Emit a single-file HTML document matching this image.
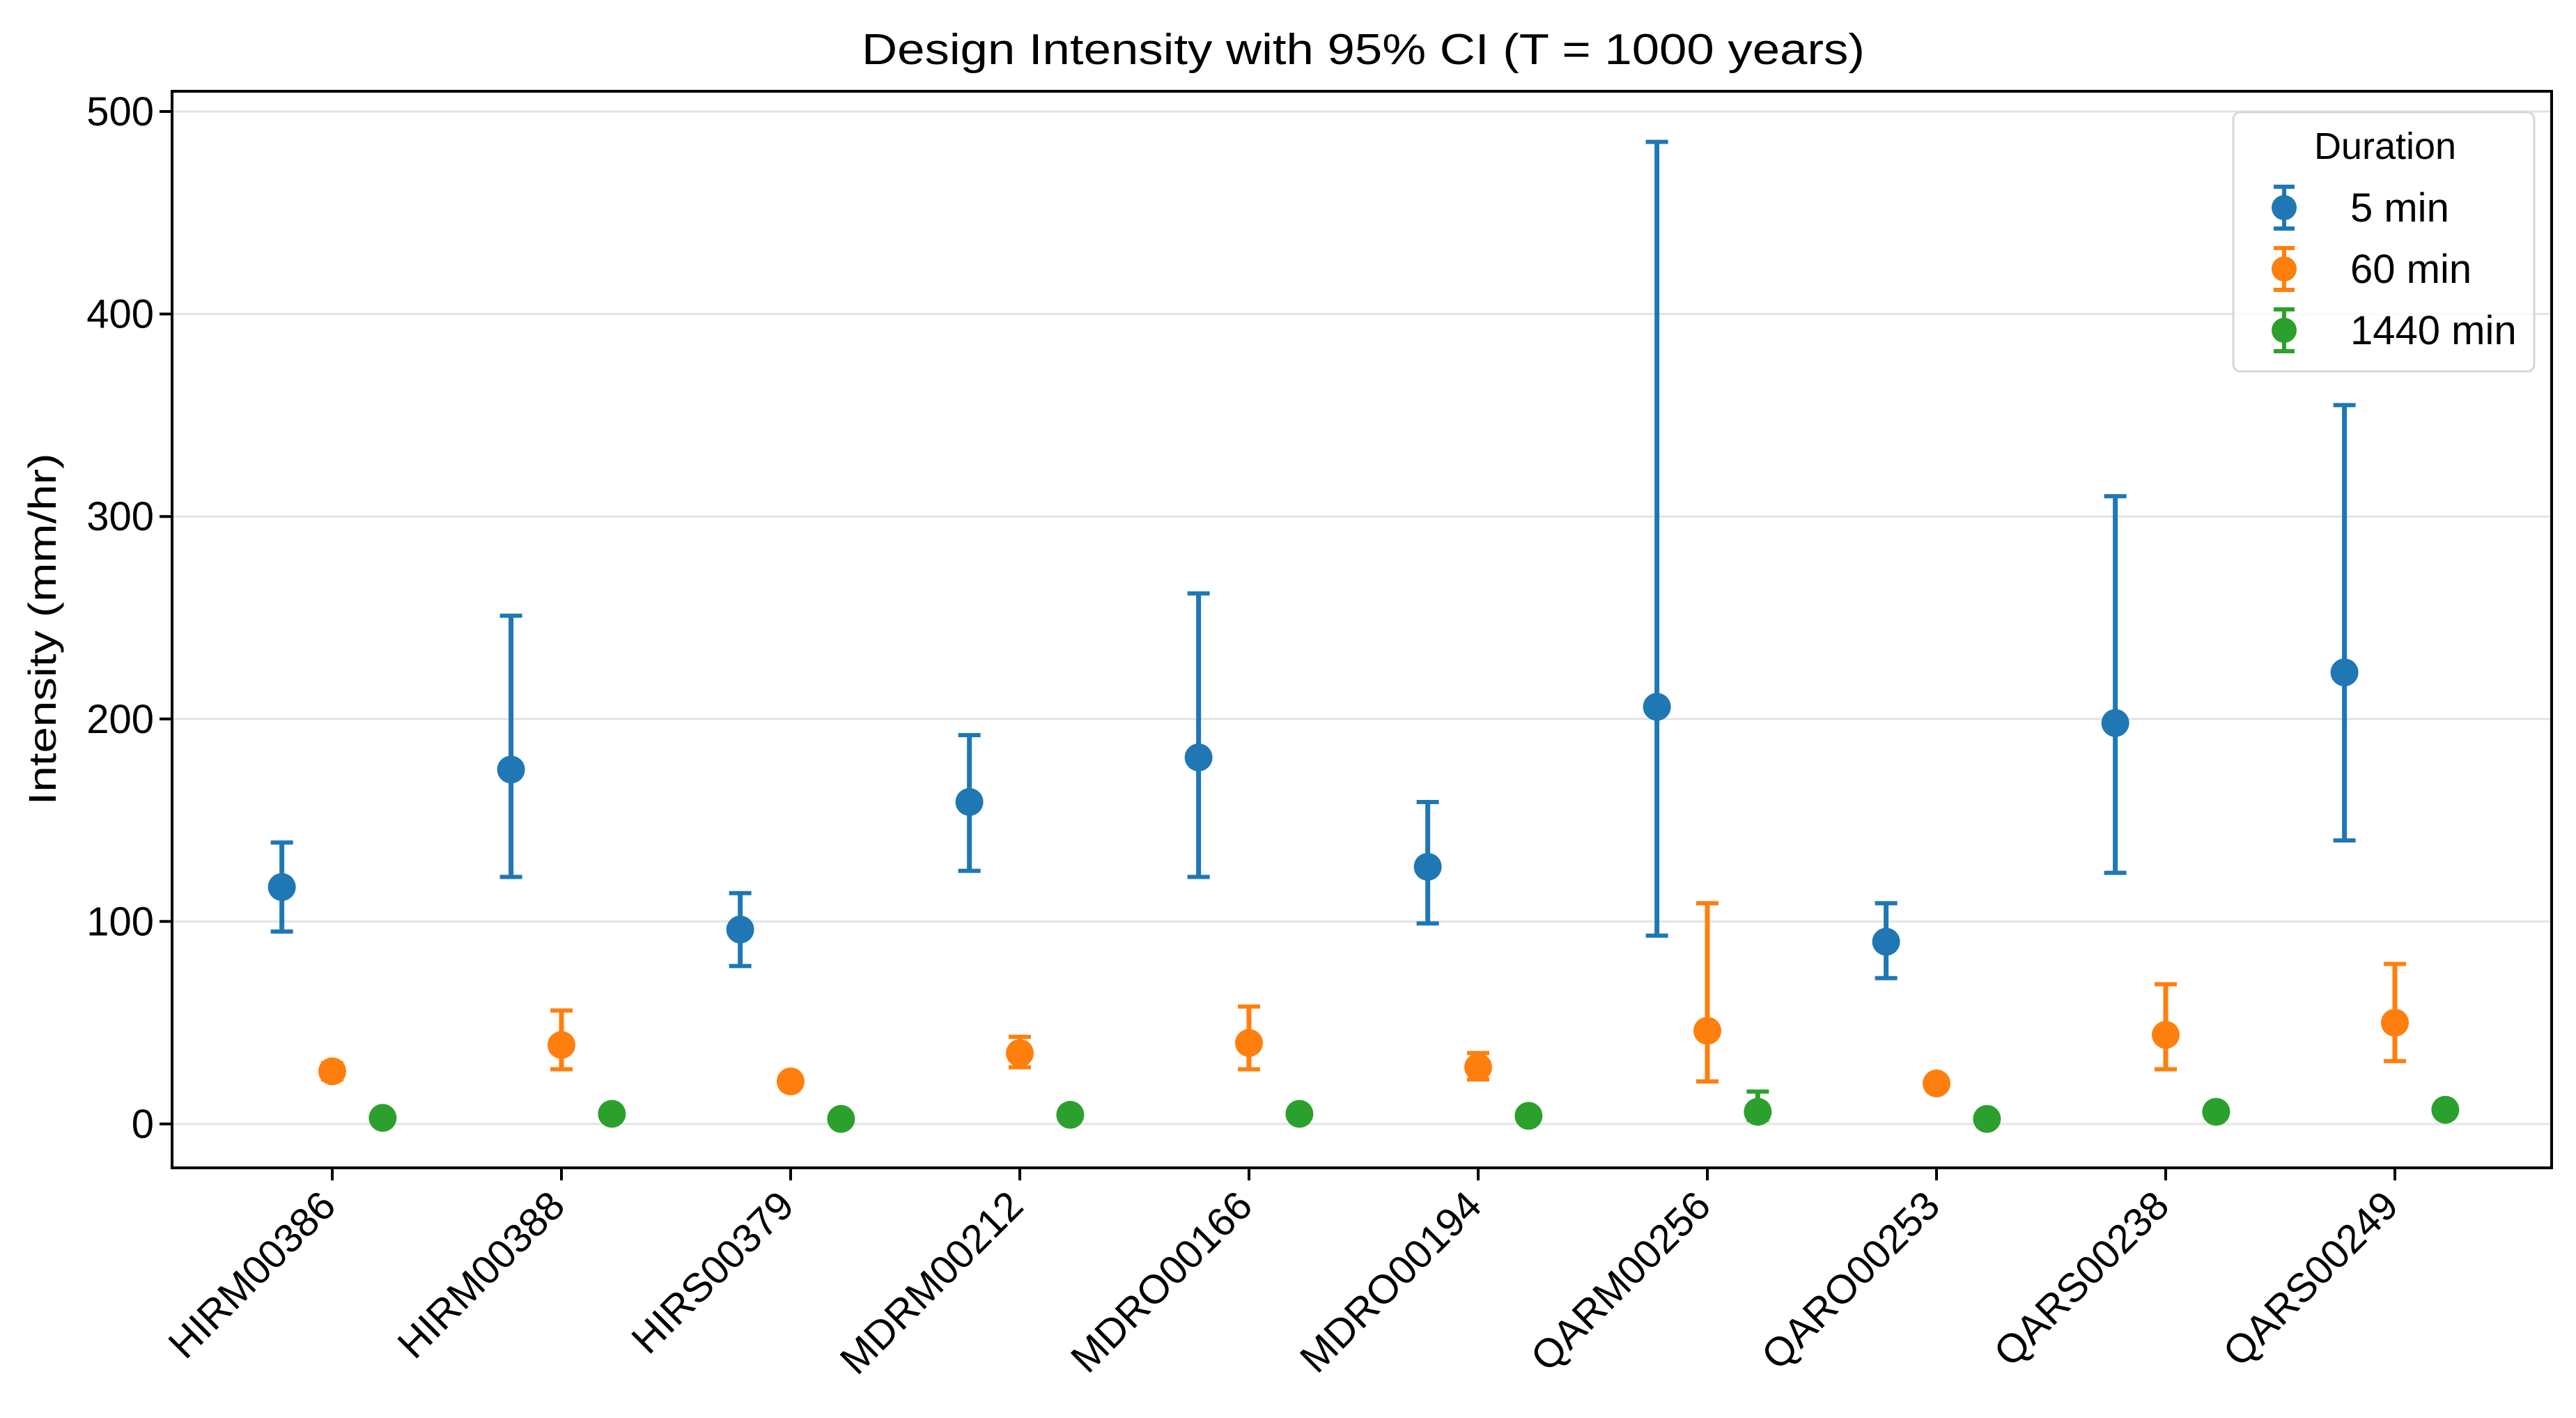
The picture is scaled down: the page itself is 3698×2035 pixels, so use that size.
<!DOCTYPE html>
<html><head><meta charset="utf-8">
<style>
html,body{margin:0;padding:0;background:#fff;}
svg{display:block;font-family:"Liberation Sans","DejaVu Sans",sans-serif;}
</style></head>
<body>
<svg id="chart" width="3698" height="2035" viewBox="0 0 3698 2035" xmlns="http://www.w3.org/2000/svg">
<rect width="3698" height="2035" fill="#fff"/>
<text x="1957" y="92" font-size="62" text-anchor="middle" textLength="1440" lengthAdjust="spacingAndGlyphs">Design Intensity with 95% CI (T = 1000 years)</text>
<text transform="translate(80,903) rotate(-90)" font-size="56" text-anchor="middle" textLength="505" lengthAdjust="spacingAndGlyphs">Intensity (mm/hr)</text>
<g id="grid"></g>
<g id="marks"></g>
<g id="axes"></g>
<g id="legend"></g>
</svg>
<script>
const categories = ["HIRM00386","HIRM00388","HIRS00379","MDRM00212","MDRO00166","MDRO00194","QARM00256","QARO00253","QARS00238","QARS00249"];
const seriesNames = ["5 min","60 min","1440 min"];
const val5 = [117,175,96,159,181,127,206,90,198,223];
const lo5 = [95,122,78,125,122,99,93,72,124,140];
const hi5 = [139,251,114,192,262,159,485,109,310,355];
const val60 = [26,39,21,35,40,28,46,20,44,50];
const lo60 = [22,27,18,28,27,22,21,17,27,31];
const hi60 = [30,56,24,43,58,35,109,23,69,79];
const val1440 = [3,5,2.5,4.5,5,4,6,2.5,6,7];
const lo1440 = [2,4,1.5,3.5,4,3,2,1.5,4.5,5];
const hi1440 = [4.5,7,3.5,6,7,5.5,16,3.5,8,9];
const yTicks = [0,100,200,300,400,500];

const NS="http://www.w3.org/2000/svg";
const L=247,R=3663,T=131,B=1676;
function yS(v){return 1613-(v/100)*290.6;}
function xS(i){return 477+i*329;}
const colors=["#1f77b4","#ff7f0e","#2ca02c"];
const offsets=[-0.22,0,0.22];
function mk(tag,attrs,parent){const e=document.createElementNS(NS,tag);for(const k in attrs)e.setAttribute(k,attrs[k]);parent.appendChild(e);return e;}
const grid=document.getElementById('grid'),marks=document.getElementById('marks'),axes=document.getElementById('axes'),legend=document.getElementById('legend');

yTicks.forEach(t=>{
  const g=mk('line',{x1:L,x2:R,y1:yS(t),y2:yS(t),stroke:'#e3e3e3','stroke-width':3},grid);
  
  
  const tk=mk('line',{x1:L-18,x2:L,y1:yS(t),y2:yS(t),stroke:'#000','stroke-width':4},axes);
  
  
  const tx=mk('text',{x:L-26,y:yS(t)+20,'font-size':58,'text-anchor':'end'},axes);
  tx.textContent=t;
  
  
});

const vals=[val5,val60,val1440],los=[lo5,lo60,lo1440],his=[hi5,hi60,hi1440];
vals.forEach((arr,s)=>{
  arr.forEach((v,i)=>{
    const x=xS(i+offsets[s]);
    const g=mk('g',{},marks);
    
    
    const c=colors[s];
    mk('line',{x1:x,x2:x,y1:yS(his[s][i]),y2:yS(los[s][i]),stroke:c,'stroke-width':7},g);
    mk('line',{x1:x-16,x2:x+16,y1:yS(his[s][i]),y2:yS(his[s][i]),stroke:c,'stroke-width':6},g);
    mk('line',{x1:x-16,x2:x+16,y1:yS(los[s][i]),y2:yS(los[s][i]),stroke:c,'stroke-width':6},g);
    mk('circle',{cx:x,cy:yS(v),r:20,fill:c},g);
  });
});

const frame=mk('rect',{x:L,y:T,width:R-L,height:B-T,fill:'none',stroke:'#000','stroke-width':4},axes);



categories.forEach((c,i)=>{
  const x=xS(i);
  const tk=mk('line',{x1:x,x2:x,y1:B,y2:B+18,stroke:'#000','stroke-width':4},axes);
  
  
  const tx=mk('text',{transform:'translate('+(x+8)+','+(B+58)+') rotate(-45)','font-size':58,'text-anchor':'end'},axes);
  tx.textContent=c;
  
  
});

const lb=mk('rect',{x:3206,y:161,width:432,height:372,rx:10,fill:'#fff','fill-opacity':0.85,stroke:'#d6d6d6','stroke-width':3},legend);


const lt=mk('text',{x:3424,y:228,'font-size':54,'text-anchor':'middle'},legend);
lt.textContent='Duration';


seriesNames.forEach((n,s)=>{
  const cy=298+s*88,c=colors[s];
  const g=mk('g',{},legend);
  
  
  mk('line',{x1:3279,x2:3279,y1:cy-30,y2:cy+30,stroke:c,'stroke-width':6},g);
  mk('line',{x1:3264,x2:3294,y1:cy-30,y2:cy-30,stroke:c,'stroke-width':6},g);
  mk('line',{x1:3264,x2:3294,y1:cy+30,y2:cy+30,stroke:c,'stroke-width':6},g);
  mk('circle',{cx:3279,cy:cy,r:18,fill:c},g);
  const t=mk('text',{x:3374,y:cy+20,'font-size':58},g);
  t.textContent=n;
});
</script>
</body></html>
